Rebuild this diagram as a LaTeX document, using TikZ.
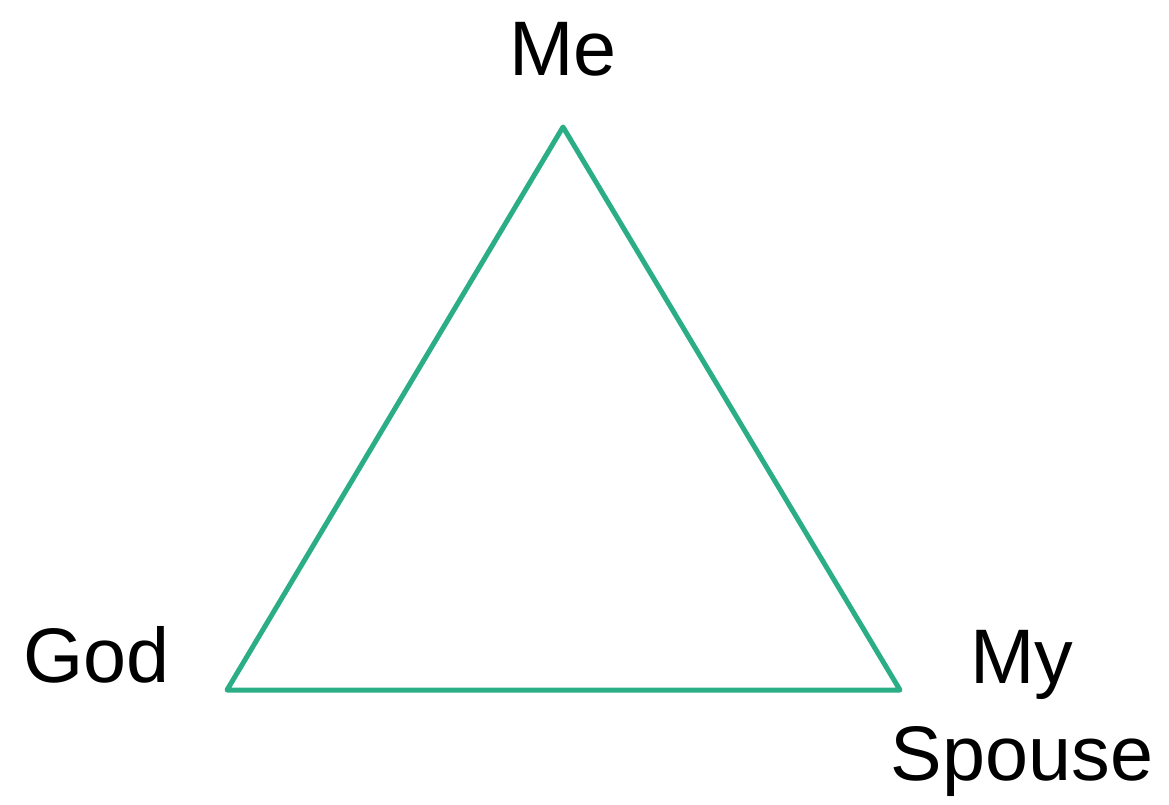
\documentclass[tikz,border=0pt]{standalone}
\usepackage{fontspec}
\setmainfont{Liberation Sans}
\definecolor{tealgreen}{HTML}{2BAE86}

\begin{document}
\begin{tikzpicture}[main/.style = {inner sep=0pt, font=\fontsize{22}{27.6}\selectfont}, side/.style = {draw=tealgreen, line width=0.05cm, line join=round}]
            \useasboundingbox (0,0) rectangle (11.69,8.04);
            \coordinate (top) at (5.63,6.77);
            \coordinate (left) at (2.27,1.14);
            \coordinate (right) at (9.00,1.14);

            \node[main, anchor=base] (me) at (5.63,7.29) {Me};
            \node[main, anchor=base west] (god) at (0.23,1.22) {God};
            \node[main, anchor=base, align=center] (spouse) at (10.22,0.24) {My\\Spouse};

            \draw[side] (top) -- (right) -- (left) -- cycle;
        \end{tikzpicture}
\end{document}
